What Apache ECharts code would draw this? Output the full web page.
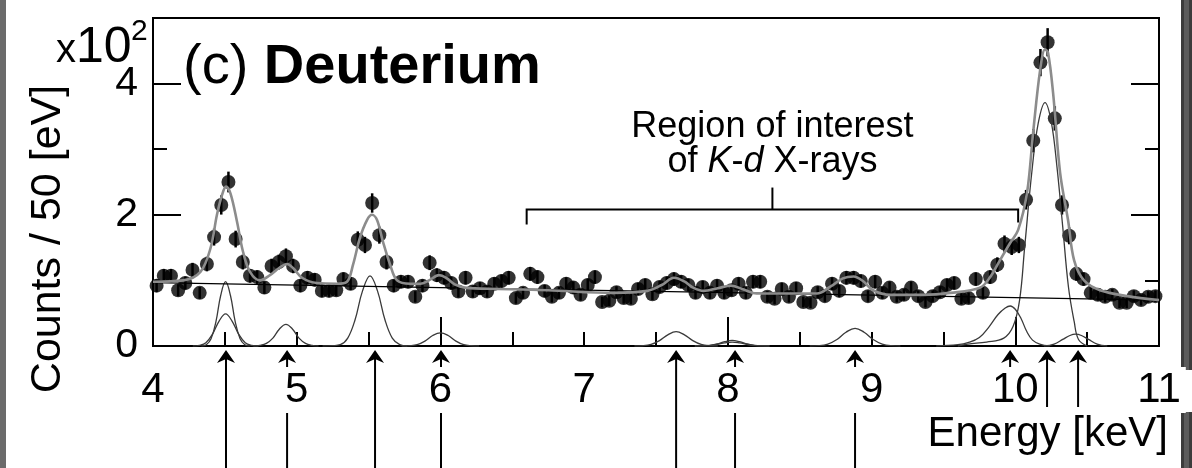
<!DOCTYPE html>
<html>
<head>
<meta charset="utf-8">
<title>Deuterium X-ray spectrum</title>
<script src="https://cdn.jsdelivr.net/npm/echarts@6/dist/echarts.min.js"></script>
<style>
  html, body { margin: 0; padding: 0; background: #fff; }
  #chart { width: 1192px; height: 468px; }
</style>
</head>
<body>
<div id="chart"></div>
<script>
// ---- Spectrum data (counts per 50 eV bin, in units of 10^2) ----
const BIN_START = 4.0;   // keV
const BIN_WIDTH = 0.05;  // keV
const counts = [
  0.92, 1.07, 1.07, 0.85, 0.96, 1.16, 0.81, 1.25, 1.66, 2.15,
  2.50, 1.63, 1.28, 1.07, 1.05, 0.89, 1.22, 1.28, 1.37, 1.22,
  0.92, 1.04, 1.01, 0.84, 0.84, 0.85, 1.02, 0.95, 1.62, 1.54,
  2.18, 1.69, 1.28, 0.92, 0.98, 0.98, 0.75, 0.92, 1.27, 1.08,
  1.04, 0.96, 0.83, 1.04, 0.83, 0.88, 0.83, 0.95, 0.99, 1.04,
  0.73, 0.81, 1.10, 1.05, 0.84, 0.75, 0.81, 0.95, 0.89, 0.78,
  0.93, 1.05, 0.67, 0.69, 0.82, 0.73, 0.72, 0.87, 0.93, 0.79,
  0.90, 0.96, 1.02, 0.98, 0.93, 0.81, 0.90, 0.81, 0.92, 0.81,
  0.85, 0.95, 0.81, 0.98, 0.98, 0.75, 0.72, 0.87, 0.75, 0.88,
  0.67, 0.66, 0.82, 0.76, 0.95, 0.84, 1.04, 1.04, 0.99, 0.76,
  0.98, 0.81, 0.89, 0.75, 0.78, 0.89, 0.76, 0.67, 0.76, 0.82,
  0.93, 0.96, 0.72, 0.73, 1.02, 0.81, 1.05, 1.24, 1.56, 1.51,
  1.54, 2.23, 3.13, 4.32, 4.63, 3.47, 2.15, 1.68, 1.10, 1.02,
  0.81, 0.78, 0.75, 0.78, 0.66, 0.66, 0.76, 0.70, 0.75, 0.76
];

// ---- Total fit function [keV, counts/100] ----
const fitTotal = [
  [4.0, 0.98], [4.21, 1.0], [4.33, 1.13], [4.40, 1.49], [4.445, 2.0], [4.48, 2.3],
  [4.508, 2.43], [4.54, 2.32], [4.585, 1.89], [4.626, 1.44], [4.675, 1.13], [4.745, 1.0],
  [4.814, 1.08], [4.884, 1.2], [4.933, 1.25], [4.974, 1.19], [5.037, 1.04], [5.14, 0.96],
  [5.28, 0.95], [5.35, 0.98], [5.392, 1.24], [5.44, 1.65], [5.489, 1.92], [5.524, 2.0],
  [5.559, 1.92], [5.6, 1.59], [5.65, 1.24], [5.698, 1.0], [5.79, 0.95], [5.86, 0.95],
  [5.92, 1.0], [5.99, 1.08], [6.04, 1.04], [6.10, 0.94], [6.17, 0.89], [6.40, 0.87],
  [6.75, 0.85], [7.2, 0.81], [7.44, 0.84], [7.54, 0.93], [7.625, 1.04], [7.70, 0.98],
  [7.75, 0.9], [7.83, 0.84], [7.93, 0.88], [8.02, 0.92], [8.11, 0.86], [8.20, 0.80],
  [8.43, 0.80], [8.62, 0.80], [8.71, 0.9], [8.80, 1.03], [8.875, 1.06], [8.94, 0.99],
  [9.01, 0.85], [9.13, 0.78], [9.36, 0.78], [9.55, 0.81], [9.755, 0.89], [9.825, 1.05],
  [9.894, 1.31], [9.964, 1.57], [10.02, 1.77], [10.082, 2.34], [10.124, 3.25], [10.173, 4.21],
  [10.207, 4.52], [10.228, 4.47], [10.263, 3.86], [10.312, 2.64], [10.367, 1.92], [10.409, 1.31],
  [10.478, 1.0], [10.59, 0.85], [10.78, 0.76], [11.0, 0.70]
];

// ---- Linear background ----
const background = [[4.0, 0.965], [11.0, 0.70]];

// ---- Individual line components ----
const compTiA = [[4.337, 0], [4.371, 0.02], [4.404, 0.11], [4.438, 0.37], [4.471, 0.77], [4.505, 0.98],
  [4.539, 0.77], [4.572, 0.37], [4.606, 0.11], [4.639, 0.02], [4.673, 0]];
const compTiB = [[4.277, 0], [4.323, 0.01], [4.368, 0.05], [4.414, 0.18], [4.46, 0.38], [4.505, 0.49],
  [4.55, 0.38], [4.596, 0.18], [4.642, 0.05], [4.687, 0.01], [4.733, 0]];
const comp49 = [[4.698, 0], [4.743, 0.01], [4.789, 0.04], [4.834, 0.12], [4.88, 0.26], [4.925, 0.33],
  [4.97, 0.26], [5.016, 0.12], [5.061, 0.04], [5.107, 0.01], [5.152, 0]];
const comp55 = [[5.18, 0], [5.251, 0.005], [5.303, 0.02], [5.355, 0.12], [5.406, 0.40], [5.458, 0.84],
  [5.51, 1.07], [5.562, 0.84], [5.614, 0.40], [5.665, 0.12], [5.717, 0.02], [5.769, 0]];
const comp60 = [[5.73, 0], [5.784, 0.004], [5.838, 0.02], [5.892, 0.075], [5.946, 0.16], [6.0, 0.2],
  [6.054, 0.16], [6.108, 0.075], [6.162, 0.02], [6.216, 0.004], [6.27, 0]];
const comp76 = [[7.35, 0], [7.408, 0.004], [7.466, 0.024], [7.524, 0.082], [7.582, 0.17], [7.64, 0.22],
  [7.698, 0.17], [7.756, 0.082], [7.814, 0.024], [7.872, 0.004], [7.93, 0]];
const comp80A = [[7.77, 0], [7.82, 0.002], [7.872, 0.009], [7.925, 0.032], [7.978, 0.066], [8.03, 0.085],
  [8.082, 0.066], [8.135, 0.032], [8.188, 0.009], [8.24, 0.002], [8.29, 0]];
const comp80B = [[7.77, 0], [7.82, 0.001], [7.872, 0.007], [7.925, 0.023], [7.978, 0.047], [8.03, 0.06],
  [8.082, 0.047], [8.135, 0.023], [8.188, 0.007], [8.24, 0.001], [8.29, 0]];
const comp89 = [[8.57, 0], [8.633, 0.005], [8.696, 0.03], [8.759, 0.10], [8.822, 0.21], [8.885, 0.27],
  [8.948, 0.21], [9.011, 0.10], [9.074, 0.03], [9.137, 0.005], [9.2, 0]];
const comp100 = [[9.45, 0], [9.6, 0.02], [9.67, 0.05], [9.75, 0.13], [9.82, 0.3], [9.88, 0.48],
  [9.93, 0.58], [9.965, 0.61], [10.0, 0.56], [10.04, 0.42], [10.08, 0.22], [10.12, 0.09],
  [10.17, 0.03], [10.24, 0]];
const comp102 = [[9.6, 0], [9.67, 0.03], [9.8, 0.06], [9.92, 0.12], [9.985, 0.3], [10.03, 0.7],
  [10.065, 1.5], [10.117, 2.69], [10.16, 3.4], [10.207, 3.71], [10.25, 3.42], [10.29, 2.73],
  [10.33, 1.82], [10.37, 0.9], [10.41, 0.37], [10.44, 0.1], [10.5, 0]];
const comp104 = [[10.2, 0], [10.27, 0.03], [10.33, 0.1], [10.38, 0.16], [10.42, 0.18], [10.46, 0.16],
  [10.51, 0.1], [10.57, 0.03], [10.64, 0]];
const components = [compTiA, compTiB, comp49, comp55, comp60, comp76, comp80A, comp80B,
  comp89, comp100, comp102, comp104];

// ---- Line positions marked with arrows below the axis [keV] ----
const arrowEnergies = [4.508, 4.933, 5.545, 6.004, 7.640, 8.050, 8.885, 9.964, 10.221, 10.437];

// ---- Region of interest of K-d X-rays [keV] and bracket height ----
const roiRange = [6.6, 10.02];
const ROI_LEVEL = 2.08;

// ---- Axis ranges ----
const X_MIN = 4, X_MAX = 11;
const Y_MIN = 0, Y_MAX = 5;

const FONT = '"Liberation Sans", Arial, Helvetica, sans-serif';
const W = 1192, H = 468;
const ENERGY_LABEL_LEFT = 925;   // arrows under the axis title stop above it
const ENERGY_LABEL_TOP = 407;

const dataPoints = counts.map((c, k) => [
  +(BIN_START + BIN_WIDTH * (k + 0.5)).toFixed(3), c
]);

function renderErrorBar(params, api) {
  const x = api.value(0), y = api.value(1);
  const err = Math.sqrt(y * 100) / 100;   // Poisson error in units of 10^2
  const top = api.coord([x, y + err]);
  const bot = api.coord([x, y - err]);
  return {
    type: 'line',
    shape: { x1: top[0], y1: top[1], x2: bot[0], y2: bot[1] },
    style: { stroke: '#000', lineWidth: 2.5 }
  };
}

function renderArrow(params, api) {
  const p = api.coord([api.value(0), 0]);
  const x = p[0];
  const tip = p[1] + 4;
  const bottom = x > ENERGY_LABEL_LEFT ? ENERGY_LABEL_TOP : api.getHeight();
  return {
    type: 'group',
    children: [
      { type: 'line', shape: { x1: x, y1: tip + 6, x2: x, y2: bottom },
        style: { stroke: '#000', lineWidth: 2 } },
      { type: 'polygon',
        shape: { points: [[x, tip], [x - 9, tip + 13], [x, tip + 9], [x + 9, tip + 13]] },
        style: { fill: '#000' } }
    ]
  };
}

function renderRoi(params, api) {
  const a = api.coord([api.value(0), api.value(2)]);
  const b = api.coord([api.value(1), api.value(2)]);
  const mid = (a[0] + b[0]) / 2;
  return {
    type: 'group',
    children: [
      { type: 'polyline',
        shape: { points: [[a[0], a[1] + 15], [a[0], a[1]], [b[0], b[1]], [b[0], b[1] + 13]] },
        style: { stroke: '#000', lineWidth: 2, fill: null } },
      { type: 'line', shape: { x1: mid, y1: a[1], x2: mid, y2: a[1] - 22 },
        style: { stroke: '#000', lineWidth: 2 } },
      { type: 'text', x: mid, y: a[1] - 65,
        style: {
          text: 'Region of interest\nof {i|K}-{i|d} X-rays',
          fontSize: 36, fontFamily: FONT, fill: '#000',
          align: 'center', verticalAlign: 'middle', lineHeight: 35,
          rich: { i: { fontStyle: 'italic', fontSize: 36, fontFamily: FONT, lineHeight: 35 } }
        } }
    ]
  };
}

const tickStyle = { color: '#000', width: 2 };
const xBase = {
  type: 'value', min: X_MIN, max: X_MAX, gridIndex: 0, position: 'bottom', offset: 0,
  axisLine: { show: false, onZero: false }, splitLine: { show: false },
  axisLabel: { show: false }, axisTick: { show: false }
};
const yBase = {
  type: 'value', min: Y_MIN, max: Y_MAX, gridIndex: 0, offset: 0,
  axisLine: { show: false, onZero: false }, splitLine: { show: false },
  axisLabel: { show: false }, axisTick: { show: false }
};

// energy tick labels sit on white boxes, which break the arrows passing behind them
const xLabelRich = {
  one: { fontSize: 42, lineHeight: 42, fontFamily: FONT, color: '#000',
    backgroundColor: '#fff', padding: [2, 9] },
  two: { fontSize: 42, lineHeight: 42, fontFamily: FONT, color: '#000',
    backgroundColor: '#fff', padding: [2, 5] }
};

const componentSeries = components.map(c => ({
  type: 'line', data: c, xAxisIndex: 0, yAxisIndex: 0,
  smooth: 0.4, symbol: 'none', silent: true,
  lineStyle: { color: '#3a3a3a', width: 1.3 }
}));

const option = {
  animation: false,
  grid: {
    left: 153, right: 33, top: 18, bottom: 122,
    show: true, borderColor: '#000', borderWidth: 2, backgroundColor: 'transparent',
    outerBoundsMode: 'none'
  },
  xAxis: [
    Object.assign({}, xBase, { interval: 0.5,
      axisTick: { show: true, inside: true, length: 14, lineStyle: tickStyle } }),
    Object.assign({}, xBase, { interval: 2,
      axisTick: { show: true, inside: true, length: 29, lineStyle: tickStyle } }),
    Object.assign({}, xBase, { interval: 1, z: 10,
      axisLabel: {
        show: true, margin: 23, fontSize: 42, fontFamily: FONT, color: '#000',
        showMinLabel: true, showMaxLabel: true, rich: xLabelRich,
        formatter: v => {
          const s = String(v);
          return s.length > 1 ? '{two|' + s + '}' : '{one|' + s + '}';
        }
      } })
  ],
  yAxis: [
    Object.assign({}, yBase, { position: 'left', interval: 2,
      axisTick: { show: true, inside: true, length: 28, lineStyle: tickStyle },
      axisLabel: { show: true, margin: 15, fontSize: 41, fontFamily: FONT, color: '#000',
        formatter: v => (v % 2 === 0 ? String(v) : '') } }),
    Object.assign({}, yBase, { position: 'left', interval: 1,
      axisTick: { show: true, inside: true, length: 14, lineStyle: tickStyle } }),
    Object.assign({}, yBase, { position: 'right', interval: 2,
      axisTick: { show: true, inside: true, length: 28, lineStyle: tickStyle } }),
    Object.assign({}, yBase, { position: 'right', interval: 1,
      axisTick: { show: true, inside: true, length: 14, lineStyle: tickStyle } })
  ],
  graphic: [
    { type: 'rect', z: 1, shape: { x: 0, y: 0, width: 6, height: H }, style: { fill: '#6b6b6b' } },
    { type: 'rect', z: 1, shape: { x: 1181, y: 0, width: 11, height: 370 }, style: { fill: '#3c3c3c' } },
    { type: 'rect', z: 1, shape: { x: 1184, y: 0, width: 5, height: 370 }, style: { fill: '#5c5c5c' } },
    { type: 'rect', z: 1, shape: { x: 1181, y: 412, width: 11, height: 56 }, style: { fill: '#3c3c3c' } },
    { type: 'rect', z: 1, shape: { x: 1184, y: 412, width: 5, height: 56 }, style: { fill: '#5c5c5c' } },
    { type: 'text', z: 5, x: 183, y: 68,
      style: { text: '(c) {b|Deuterium}', fontSize: 56, fontFamily: FONT, fill: '#000',
        align: 'left', verticalAlign: 'middle',
        rich: { b: { fontSize: 56, fontWeight: 'bold', fontFamily: FONT } } } },
    { type: 'text', z: 5, x: 56, y: 51,
      style: { text: 'x', fontSize: 40, fontFamily: FONT, fill: '#000', align: 'left', verticalAlign: 'middle' } },
    { type: 'text', z: 5, x: 76, y: 48,
      style: { text: '10', fontSize: 50, fontFamily: FONT, fill: '#000', align: 'left', verticalAlign: 'middle' } },
    { type: 'text', z: 5, x: 131, y: 32,
      style: { text: '2', fontSize: 30, fontFamily: FONT, fill: '#000', align: 'left', verticalAlign: 'middle' } },
    { type: 'text', z: 5, x: 48, y: 239, rotation: Math.PI / 2,
      style: { text: 'Counts / 50 [eV]', fontSize: 43, fontFamily: FONT, fill: '#000',
        align: 'center', verticalAlign: 'middle' } },
    { type: 'text', z: 5, x: 1168, y: 434,
      style: { text: 'Energy [keV]', fontSize: 42, fontFamily: FONT, fill: '#000',
        align: 'right', verticalAlign: 'middle' } }
  ],
  series: componentSeries.concat([
    { type: 'line', data: background, symbol: 'none', silent: true,
      lineStyle: { color: '#000', width: 1.3 } },
    { type: 'custom', data: dataPoints, renderItem: renderErrorBar, silent: true },
    { type: 'scatter', data: dataPoints, symbol: 'circle', symbolSize: 14, clip: false,
      itemStyle: { color: '#000' }, silent: true },
    { type: 'line', data: fitTotal, smooth: 0.35, symbol: 'none', silent: true,
      lineStyle: { color: '#8c8c8c', width: 2.6 } },
    { type: 'custom', data: arrowEnergies.map(e => [e, 0]), renderItem: renderArrow,
      clip: false, silent: true, z: 1 },
    { type: 'custom', data: [[roiRange[0], roiRange[1], ROI_LEVEL]],
      encode: { x: [0, 1], y: 2 }, renderItem: renderRoi, clip: false, silent: true }
  ])
};

const chart = echarts.init(document.getElementById('chart'), null, { renderer: 'canvas' });
chart.setOption(option);
</script>
</body>
</html>
